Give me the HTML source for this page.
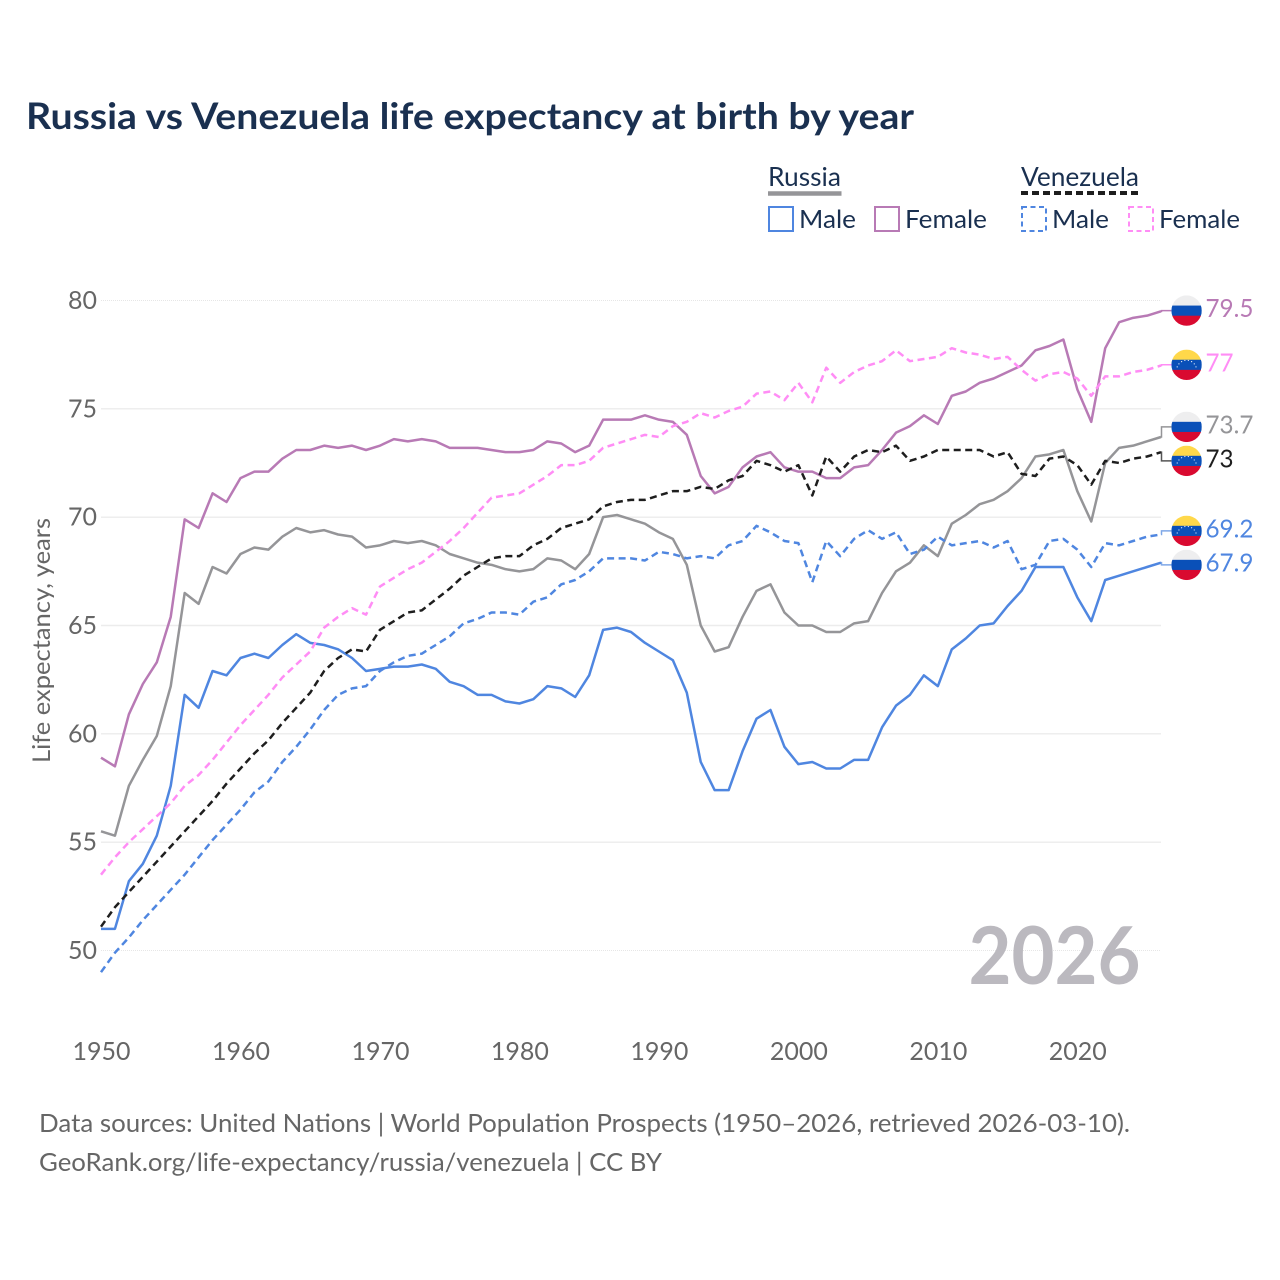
<!DOCTYPE html>
<html lang="en">
<head>
<meta charset="utf-8">
<title>Russia vs Venezuela life expectancy at birth by year</title>
<style>
html,body{margin:0;padding:0;background:#fff}
svg{display:block}
text{font-family:"Lato","Carlito","Liberation Sans",sans-serif}
</style>
</head>
<body>
<svg id="chart" xmlns="http://www.w3.org/2000/svg" width="1280" height="1280" viewBox="0 0 1280 1280">
  <rect width="1280" height="1280" fill="#fff"/>
  <text x="26" y="129" font-size="36.5" font-weight="700" fill="#1a3050" textLength="888" lengthAdjust="spacingAndGlyphs">Russia vs Venezuela life expectancy at birth by year</text>

  <g>
    <text x="768" y="186" font-size="26" fill="#1a3050" textLength="73" lengthAdjust="spacingAndGlyphs">Russia</text>
    <line x1="768" y1="193.5" x2="841.5" y2="193.5" stroke="#959598" stroke-width="4.5"/>
    <text x="1021" y="186" font-size="26" fill="#1a3050" textLength="118" lengthAdjust="spacingAndGlyphs">Venezuela</text>
    <line x1="1021" y1="193" x2="1139" y2="193" stroke="#1e1e1e" stroke-width="4" stroke-dasharray="7 4"/>

    <rect x="769" y="207" width="24" height="24" fill="none" stroke="#4f86e0" stroke-width="2"/>
    <text x="799" y="228" font-size="25" fill="#1a3050" textLength="57" lengthAdjust="spacingAndGlyphs">Male</text>
    <rect x="875" y="207" width="24" height="24" fill="none" stroke="#b87ab5" stroke-width="2"/>
    <text x="905" y="228" font-size="25" fill="#1a3050" textLength="82" lengthAdjust="spacingAndGlyphs">Female</text>
    <rect x="1022" y="207" width="24" height="24" fill="none" stroke="#4f86e0" stroke-width="2" stroke-dasharray="5 3.5"/>
    <text x="1052" y="228" font-size="25" fill="#1a3050" textLength="57" lengthAdjust="spacingAndGlyphs">Male</text>
    <rect x="1129" y="207" width="24" height="24" fill="none" stroke="#ff8df5" stroke-width="2" stroke-dasharray="5 3.5"/>
    <text x="1159" y="228" font-size="25" fill="#1a3050" textLength="81" lengthAdjust="spacingAndGlyphs">Female</text>
  </g>

  <g id="grid"></g>
  <g id="yticks"></g>
  <g id="xticks"></g>
  <text transform="translate(50,640.5) rotate(-90)" text-anchor="middle" font-size="24" fill="#666" textLength="245" lengthAdjust="spacingAndGlyphs">Life expectancy, years</text>

  <text x="968.5" y="984" font-size="80" font-weight="700" fill="#bbb9bf" textLength="172" lengthAdjust="spacingAndGlyphs">2026</text>

  <g id="series"></g>
  <g id="endlabels"></g>

  <text x="39" y="1132" font-size="25" fill="#666" textLength="1091" lengthAdjust="spacingAndGlyphs">Data sources: United Nations | World Population Prospects (1950–2026, retrieved 2026-03-10).</text>
  <text x="39" y="1171" font-size="25" fill="#666" textLength="623" lengthAdjust="spacingAndGlyphs">GeoRank.org/life-expectancy/russia/venezuela | CC BY</text>
</svg>

<script>
const startYear = 1950;
const endYear = 2026;
const yTicks = [50, 55, 60, 65, 70, 75, 80];
const xTicks = [1950, 1960, 1970, 1980, 1990, 2000, 2010, 2020];

const russiaBoth = [55.5,55.3,57.6,58.8,59.9,62.2,66.5,66.0,67.7,67.4,68.3,68.6,68.5,69.1,69.5,69.3,69.4,69.2,69.1,68.6,68.7,68.9,68.8,68.9,68.7,68.3,68.1,67.9,67.8,67.6,67.5,67.6,68.1,68.0,67.6,68.3,70.0,70.1,69.9,69.7,69.3,69.0,67.8,65.0,63.8,64.0,65.4,66.6,66.9,65.6,65.0,65.0,64.7,64.7,65.1,65.2,66.5,67.5,67.9,68.7,68.2,69.7,70.1,70.6,70.8,71.2,71.8,72.8,72.9,73.1,71.2,69.8,72.5,73.2,73.3,73.5,73.7];
const russiaMale = [51.0,51.0,53.2,54.0,55.3,57.6,61.8,61.2,62.9,62.7,63.5,63.7,63.5,64.1,64.6,64.2,64.1,63.9,63.5,62.9,63.0,63.1,63.1,63.2,63.0,62.4,62.2,61.8,61.8,61.5,61.4,61.6,62.2,62.1,61.7,62.7,64.8,64.9,64.7,64.2,63.8,63.4,61.9,58.7,57.4,57.4,59.2,60.7,61.1,59.4,58.6,58.7,58.4,58.4,58.8,58.8,60.3,61.3,61.8,62.7,62.2,63.9,64.4,65.0,65.1,65.9,66.6,67.7,67.7,67.7,66.3,65.2,67.1,67.3,67.5,67.7,67.9];
const russiaFemale = [58.9,58.5,60.9,62.3,63.3,65.4,69.9,69.5,71.1,70.7,71.8,72.1,72.1,72.7,73.1,73.1,73.3,73.2,73.3,73.1,73.3,73.6,73.5,73.6,73.5,73.2,73.2,73.2,73.1,73.0,73.0,73.1,73.5,73.4,73.0,73.3,74.5,74.5,74.5,74.7,74.5,74.4,73.8,71.9,71.1,71.4,72.3,72.8,73.0,72.3,72.1,72.1,71.8,71.8,72.3,72.4,73.1,73.9,74.2,74.7,74.3,75.6,75.8,76.2,76.4,76.7,77.0,77.7,77.9,78.2,75.9,74.4,77.8,79.0,79.2,79.3,79.5];
const venezuelaBoth = [51.1,52.0,52.7,53.4,54.1,54.8,55.5,56.2,56.9,57.7,58.4,59.1,59.7,60.5,61.2,61.9,62.9,63.5,63.9,63.8,64.8,65.2,65.6,65.7,66.2,66.7,67.3,67.7,68.1,68.2,68.2,68.7,69.0,69.5,69.7,69.9,70.5,70.7,70.8,70.8,71.0,71.2,71.2,71.4,71.3,71.7,71.9,72.6,72.4,72.1,72.4,71.0,72.8,72.1,72.8,73.1,73.0,73.3,72.6,72.8,73.1,73.1,73.1,73.1,72.8,73.0,72.0,71.9,72.7,72.8,72.4,71.5,72.6,72.5,72.7,72.8,73.0];
const venezuelaMale = [49.0,49.9,50.6,51.4,52.1,52.8,53.5,54.3,55.1,55.8,56.5,57.3,57.8,58.7,59.4,60.2,61.1,61.8,62.1,62.2,62.9,63.3,63.6,63.7,64.1,64.5,65.1,65.3,65.6,65.6,65.5,66.1,66.3,66.9,67.1,67.5,68.1,68.1,68.1,68.0,68.4,68.3,68.1,68.2,68.1,68.7,68.9,69.6,69.3,68.9,68.8,67.0,68.9,68.2,69.0,69.4,69.0,69.3,68.3,68.5,69.1,68.7,68.8,68.9,68.6,68.9,67.6,67.8,68.9,69.0,68.5,67.7,68.8,68.7,68.9,69.1,69.2];
const venezuelaFemale = [53.5,54.3,55.0,55.6,56.2,56.8,57.6,58.1,58.8,59.6,60.4,61.1,61.8,62.6,63.2,63.8,64.9,65.4,65.8,65.5,66.8,67.2,67.6,67.9,68.4,68.9,69.5,70.2,70.9,71.0,71.1,71.5,71.9,72.4,72.4,72.6,73.2,73.4,73.6,73.8,73.7,74.2,74.4,74.8,74.6,74.9,75.1,75.7,75.8,75.4,76.2,75.3,76.9,76.2,76.7,77.0,77.2,77.7,77.2,77.3,77.4,77.8,77.6,77.5,77.3,77.4,76.8,76.3,76.6,76.7,76.4,75.6,76.5,76.5,76.7,76.8,77.0];

const seriesList = [
  {key:'russia-both', values:russiaBoth, color:'#959598', labelColor:'#959598', dash:'', flag:'russia', tick:'#959598'},
  {key:'russia-male', values:russiaMale, color:'#4f86e0', labelColor:'#4f86e0', dash:'', flag:'russia', tick:'#7fa8e8'},
  {key:'russia-female', values:russiaFemale, color:'#b87ab5', labelColor:'#b87ab5', dash:'', flag:'russia', tick:'#b87ab5'},
  {key:'venezuela-male', values:venezuelaMale, color:'#4f86e0', labelColor:'#4f86e0', dash:'7 4.5', flag:'venezuela', tick:'#7fa8e8'},
  {key:'venezuela-female', values:venezuelaFemale, color:'#ff8df5', labelColor:'#ff8df5', dash:'7 4.5', flag:'venezuela', tick:'#ff8df5'},
  {key:'venezuela-both', values:venezuelaBoth, color:'#1e1e1e', labelColor:'#1e1e1e', dash:'7 4.5', flag:'venezuela', tick:'#555'}
];

const NS = 'http://www.w3.org/2000/svg';
const plotLeft = 101, plotRight = 1161, plotTop = 300.5, plotBottom = 950.5;
const x = year => plotLeft + (year - startYear) * (plotRight - plotLeft) / (endYear - startYear);
const y = value => plotBottom - (value - 50) * (plotBottom - plotTop) / 30;

function make(tag, parent, attrs, text) {
  const el = document.createElementNS(NS, tag);
  Object.keys(attrs).forEach(k => el.setAttribute(k, attrs[k]));
  if (text !== undefined) el.textContent = text;
  parent.appendChild(el);
  return el;
}

const gridG = document.getElementById('grid');
const yG = document.getElementById('yticks');
yTicks.forEach(t => {
  const edge = t === 50 || t === 80;
  const line = make('line', gridG, {x1:plotLeft, x2:plotRight, y1:y(t), y2:y(t), stroke:edge?'#e6e6e6':'#ececec', 'stroke-width':edge?1:1.4});
  if (edge) line.setAttribute('stroke-dasharray', '1 1');
  
  
  const label = make('text', yG, {x:97, y:y(t)+8.5, 'text-anchor':'end', 'font-size':25, fill:'#666'}, String(t));
  
  
});

const xG = document.getElementById('xticks');
xTicks.forEach(t => {
  const label = make('text', xG, {x:x(t)+0.5, y:1060, 'text-anchor':'middle', 'font-size':25, fill:'#666'}, String(t));
  
  
});

const seriesG = document.getElementById('series');
seriesList.forEach(s => {
  const pts = s.values.map((v, i) => x(startYear + i).toFixed(2) + ',' + y(v).toFixed(2)).join(' ');
  const attrs = {points:pts, fill:'none', stroke:s.color, 'stroke-width':2.5, 'stroke-linejoin':'round'};
  if (s.dash) attrs['stroke-dasharray'] = s.dash;
  const line = make('polyline', seriesG, attrs);
  
  
});

// End labels: push overlapping neighbours apart by a minimum gap.
const minGap = 34;
const placed = seriesList.map(s => {
  const last = s.values[s.values.length - 1];
  return {s:s, last:last, lineY:y(last), labelY:y(last)};
}).sort((a, b) => a.lineY - b.lineY);
for (let pass = 0; pass < 10; pass++) {
  for (let i = 0; i < placed.length - 1; i++) {
    const gap = placed[i+1].labelY - placed[i].labelY;
    if (gap < minGap) {
      const push = (minGap - gap) / 2;
      placed[i].labelY -= push;
      placed[i+1].labelY += push;
    }
  }
}

const labelG = document.getElementById('endlabels');
const defs = make('defs', labelG, {});
placed.forEach((p, idx) => {
  const cx = 1186.6, cy = p.labelY - 0.7, r = 15.2;
  const connector = make('polyline', labelG, {points:[plotRight,p.lineY, plotRight+0.5,p.lineY, plotRight+0.5,cy, cx-r,cy].join(' '), fill:'none', stroke:p.s.tick, 'stroke-width':1.5});
  
  

  const clip = make('clipPath', defs, {id:'clip' + idx});
  make('circle', clip, {cx:cx, cy:cy, r:r});

  const flag = make('g', labelG, {'clip-path':'url(#clip' + idx + ')'});
  
  
  const top = p.s.flag === 'russia' ? '#eeeeef' : '#ffd84a';
  make('rect', flag, {x:cx-r, y:cy-r, width:2*r, height:r*2/3+0.5, fill:top});
  make('rect', flag, {x:cx-r, y:cy-r/3, width:2*r, height:r*2/3+0.5, fill:'#0a50b8'});
  make('rect', flag, {x:cx-r, y:cy+r/3, width:2*r, height:r*2/3, fill:'#d90a30'});
  if (p.s.flag === 'venezuela') {
    for (let k = 0; k < 8; k++) {
      const angle = (-70 + k * 20) * Math.PI / 180;
      make('circle', flag, {cx:cx + 10*Math.sin(angle), cy:cy + 5.5 - 10*Math.cos(angle) , r:0.6, fill:'#e8eefc'});
    }
  }

  const label = make('text', labelG, {x:1205.5, y:cy+6.5, 'font-size':25.5, fill:p.s.labelColor}, String(p.last));
  label.setAttribute('textLength', (label.getComputedTextLength() * 0.95).toFixed(1));
  label.setAttribute('lengthAdjust', 'spacingAndGlyphs');
  
  
});
</script>
</body>
</html>
